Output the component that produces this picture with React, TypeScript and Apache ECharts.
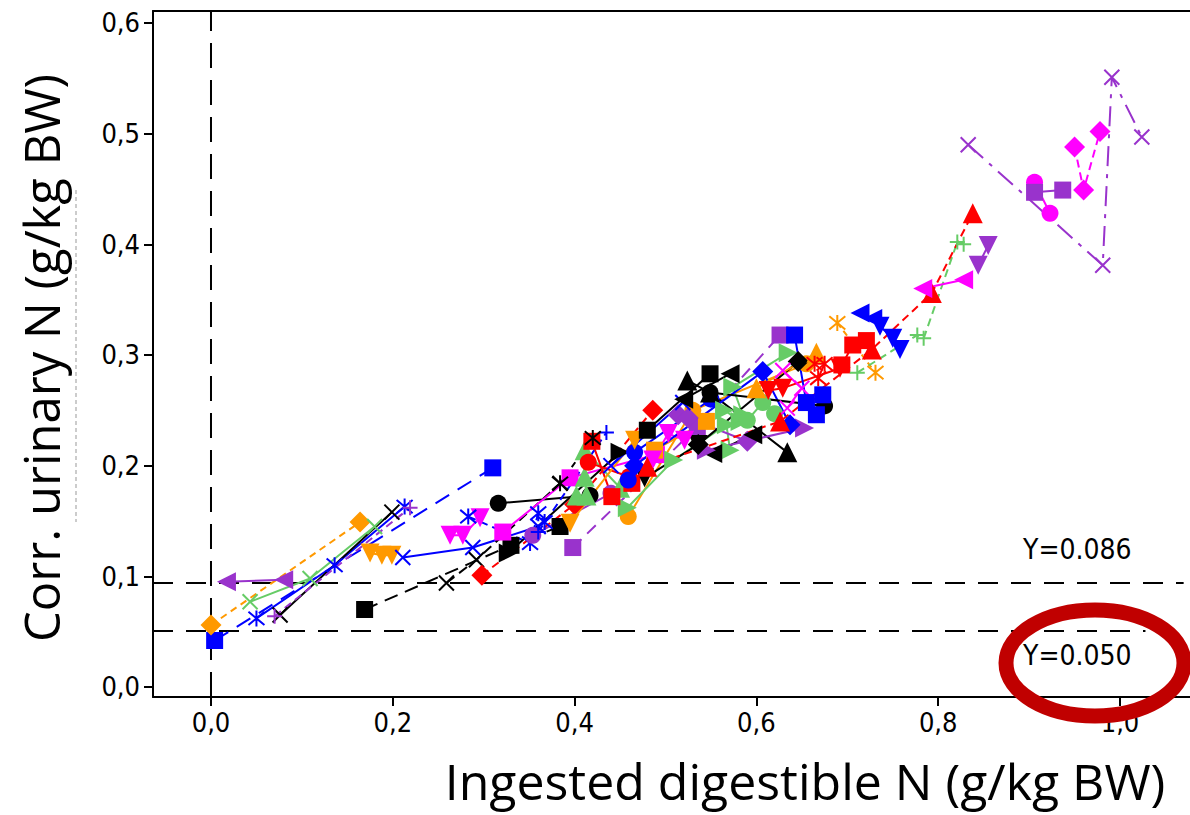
import React, { useEffect, useRef } from "react";
import * as echarts from "echarts";

// ---------- data ----------
const xTicks = [0, 0.2, 0.4, 0.6, 0.8, 1.0];
const yTicks = [0, 0.1, 0.2, 0.3, 0.4, 0.5, 0.6];
const refLineHigh = 0.094; // drawn position of the "Y=0.086" line
const refLineLow = 0.0506; // drawn position of the "Y=0.050" line
const refLabels = ["Y=0.086", "Y=0.050"];
const xTitle = "Ingested digestible N (g/kg BW)";
const yTitle = "Corr. urinary N (g/kg BW)";

// colour, symbol, dash, points
type Ser = [string, string, any, number[][]];
const groups: Ser[] = [
  ["B", "rect", [16, 10], [[0.004, 0.042], [0.31, 0.198]]],
  ["B", "ast", "solid", [[0.05, 0.062], [0.136, 0.11], [0.213, 0.163]]],
  ["O", "diamond", [7, 5], [[0.0, 0.056], [0.164, 0.149]]],
  ["P", "left", "solid", [[0.017, 0.095], [0.08, 0.097]]],
  ["G", "x", "solid", [[0.043, 0.077], [0.109, 0.098], [0.18, 0.145]]],
  ["K", "x", "solid", [[0.076, 0.065], [0.199, 0.158]]],
  ["P", "plus", [8, 5], [[0.07, 0.064], [0.219, 0.162]]],
  ["O", "down", "solid", [[0.175, 0.121], [0.188, 0.119], [0.199, 0.119]]],
  ["B", "x", "solid", [[0.211, 0.117], [0.288, 0.126], [0.36, 0.145]]],
  ["K", "rect", [14, 8], [[0.169, 0.07], [0.33, 0.128], [0.384, 0.145]]],
  ["K", "x", [10, 6], [[0.259, 0.094], [0.292, 0.115], [0.384, 0.184]]],
  ["R", "diamond", [8, 5], [[0.298, 0.101], [0.4, 0.165], [0.486, 0.25]]],
  ["M", "down", "solid", [[0.263, 0.137], [0.277, 0.137], [0.296, 0.153]]],
  ["B", "ast", [8, 5], [[0.283, 0.154], [0.351, 0.13], [0.36, 0.157], [0.367, 0.149]]],
  ["K", "circle", "solid", [[0.316, 0.166], [0.417, 0.173]]],
  ["M", "rect", "solid", [[0.321, 0.14], [0.395, 0.189], [0.49, 0.21]]],
  ["P", "rect", [12, 8], [[0.398, 0.126], [0.535, 0.235], [0.626, 0.318]]],
  ["P", "circle", "solid", [[0.354, 0.137], [0.44, 0.175]]],
  ["K", "right", "solid", [[0.327, 0.121], [0.45, 0.212]]],
  ["O", "circle", "solid", [[0.459, 0.154], [0.53, 0.25], [0.655, 0.292]]],
  ["G", "up", "solid", [[0.402, 0.173], [0.413, 0.173], [0.411, 0.19], [0.411, 0.214], [0.45, 0.18]]],
  ["G", "right", "solid", [[0.458, 0.162], [0.509, 0.205], [0.567, 0.237], [0.571, 0.214]]],
  ["R", "rect", "solid", [[0.419, 0.222], [0.441, 0.172], [0.463, 0.184]]],
  ["R", "circle", "solid", [[0.415, 0.203], [0.46, 0.19]]],
  ["B", "circle", "solid", [[0.459, 0.187], [0.466, 0.212], [0.55, 0.26]]],
  ["K", "down", "solid", [[0.477, 0.189], [0.536, 0.219]]],
  ["O", "down", "solid", [[0.395, 0.148], [0.466, 0.223]]],
  ["O", "rect", "solid", [[0.488, 0.214], [0.545, 0.24]]],
  ["K", "rect", "solid", [[0.48, 0.232], [0.549, 0.283]]],
  ["M", "down", "solid", [[0.486, 0.205], [0.503, 0.229], [0.521, 0.223]]],
  ["P", "diamond", "solid", [[0.514, 0.246], [0.525, 0.243], [0.59, 0.222]]],
  ["B", "x", "solid", [[0.44, 0.2], [0.519, 0.257]]],
  ["B", "plus", [8, 5], [[0.36, 0.14], [0.435, 0.23]]],
  ["K", "ast", [6, 4], [[0.384, 0.184], [0.42, 0.225]]],
  ["K", "left", "solid", [[0.552, 0.211], [0.596, 0.228]]],
  ["K", "up", "solid", [[0.524, 0.277], [0.549, 0.266], [0.634, 0.212]]],
  ["K", "left", "solid", [[0.571, 0.283], [0.52, 0.26]]],
  ["P", "right", "solid", [[0.545, 0.214], [0.653, 0.234]]],
  ["G", "right", "solid", [[0.565, 0.25], [0.582, 0.24], [0.585, 0.246], [0.574, 0.271], [0.635, 0.302]]],
  ["G", "circle", "solid", [[0.59, 0.241], [0.607, 0.257], [0.62, 0.247]]],
  ["B", "diamond", "solid", [[0.466, 0.2], [0.607, 0.285], [0.637, 0.237]]],
  ["K", "diamond", "solid", [[0.536, 0.219], [0.646, 0.294]]],
  ["O", "up", "solid", [[0.6, 0.27], [0.666, 0.302]]],
  ["K", "circle", "solid", [[0.549, 0.266], [0.675, 0.254]]],
  ["M", "x", "solid", [[0.629, 0.286], [0.65, 0.27], [0.634, 0.252]]],
  ["R", "down", "solid", [[0.613, 0.268], [0.629, 0.27], [0.692, 0.288]]],
  ["R", "ast", "solid", [[0.664, 0.292], [0.675, 0.292], [0.668, 0.279]]],
  ["B", "rect", "solid", [[0.642, 0.318], [0.655, 0.257], [0.673, 0.264], [0.666, 0.246]]],
  ["R", "rect", "solid", [[0.694, 0.291], [0.706, 0.309], [0.721, 0.313]]],
  ["O", "ast", [6, 4], [[0.689, 0.329], [0.731, 0.284]]],
  ["G", "plus", [8, 5], [[0.711, 0.284], [0.777, 0.318], [0.784, 0.315], [0.821, 0.402], [0.828, 0.4]]],
  ["B", "left", "solid", [[0.714, 0.338], [0.728, 0.333]]],
  ["B", "down", "solid", [[0.736, 0.326], [0.75, 0.315], [0.758, 0.305]]],
  ["R", "up", [8, 5], [[0.48, 0.199], [0.626, 0.24], [0.727, 0.305], [0.793, 0.356], [0.838, 0.428]]],
  ["M", "left", "solid", [[0.783, 0.36], [0.828, 0.368]]],
  ["P", "down", "solid", [[0.844, 0.381], [0.855, 0.399]]],
  ["P", "x", [20, 8, 4, 8], [[0.833, 0.49], [0.981, 0.381], [0.991, 0.551], [1.024, 0.497]]],
  ["M", "diamond", [8, 5], [[0.95, 0.488], [0.96, 0.449], [0.978, 0.502]]],
  ["M", "circle", "solid", [[0.906, 0.456], [0.923, 0.428]]],
  ["P", "rect", "solid", [[0.906, 0.447], [0.937, 0.449]]],
];

const COLORS: Record<string, string> = {
  B: "#0000FF",
  K: "#000000",
  R: "#FF0000",
  M: "#FF00FF",
  P: "#9933CC",
  G: "#66CC66",
  O: "#FF9900",
};

const SYMBOLS: Record<string, [string, number, boolean]> = {
  rect: ["rect", 17, false],
  circle: ["circle", 17, false],
  up: ["triangle", 20, false],
  diamond: ["diamond", 21, false],
  down: ["path://M0,0L10,0L5,9Z", 19, false],
  left: ["path://M0,5L9,0L9,10Z", 19, false],
  right: ["path://M0,0L9,5L0,10Z", 19, false],
  x: ["path://M0,0L10,10M10,0L0,10", 15, true],
  ast: ["path://M0,0L10,10M10,0L0,10M5,-1L5,11", 16, true],
  plus: ["path://M5,0L5,10M0,5L10,5", 15, true],
};

const X_MIN = -0.0638;
const X_MAX = 1.077;
const Y_MIN = -0.00904;
const Y_MAX = 0.6108;

const TICK_FONT = "'Liberation Sans Narrow', 'DejaVu Sans Condensed', sans-serif";
const TITLE_FONT = "'Open Sans', 'DejaVu Sans', sans-serif";

export default function App() {
  const ref = useRef<HTMLDivElement>(null);
  useEffect(() => {
    if (!ref.current) return;
    const chart = echarts.init(ref.current, undefined, { renderer: "svg" });

    const dataSeries = groups.map(([c, s, dash, pts], i) => {
      const color = COLORS[c];
      const [sym, size, strokeOnly] = SYMBOLS[s];
      return {
        type: "line",
        name: "s" + i,
        data: pts,
        symbol: sym,
        symbolSize: size,
        showSymbol: true,
        silent: true,
        z: 3,
        lineStyle: { color, width: 2, type: dash },
        itemStyle: strokeOnly
          ? { color: "rgba(0,0,0,0)", borderColor: color, borderWidth: 2 }
          : { color, borderWidth: 0 },
        emphasis: { disabled: true },
      };
    });

    const refStyle = { color: "#000", width: 2, type: [20, 13] };
    const refSeries = [
      {
        type: "line",
        data: [[X_MIN, refLineHigh], [1.07, refLineHigh]],
        symbol: "none",
        silent: true,
        z: 1,
        lineStyle: refStyle,
      },
      {
        type: "line",
        data: [[X_MIN, refLineLow], [1.028, refLineLow]],
        symbol: "none",
        silent: true,
        z: 1,
        lineStyle: refStyle,
      },
      {
        type: "line",
        data: [[0, Y_MIN], [0, Y_MAX]],
        symbol: "none",
        silent: true,
        z: 1,
        lineStyle: { color: "#000", width: 2, type: [25, 12] },
      },
    ];

    const fmt = (v: number) => v.toFixed(1).replace(".", ",");

    chart.setOption({
      animation: false,
      backgroundColor: "#fff",
      grid: { left: 153, top: 11, right: 0, bottom: 118 },
      xAxis: [
        {
          type: "value",
          min: X_MIN,
          max: X_MAX,
          position: "bottom",
          axisLine: { show: true, onZero: false, lineStyle: { color: "#000", width: 2 } },
          axisTick: { show: true, length: 9, customValues: xTicks, lineStyle: { color: "#000", width: 2 } },
          axisLabel: {
            customValues: xTicks,
            formatter: fmt,
            fontSize: 27,
            fontFamily: TICK_FONT,
            color: "#000",
            margin: 12,
          },
          splitLine: { show: false },
        },
        {
          type: "value",
          min: X_MIN,
          max: X_MAX,
          position: "top",
          axisLine: { show: true, onZero: false, lineStyle: { color: "#000", width: 2 } },
          axisTick: { show: false },
          axisLabel: { show: false },
          splitLine: { show: false },
        },
      ],
      yAxis: {
        type: "value",
        min: Y_MIN,
        max: Y_MAX,
        axisLine: { show: true, onZero: false, lineStyle: { color: "#000", width: 2 } },
        axisTick: { show: true, length: 9, customValues: yTicks, lineStyle: { color: "#000", width: 2 } },
        axisLabel: {
          customValues: yTicks,
          formatter: fmt,
          fontSize: 27,
          fontFamily: TICK_FONT,
          color: "#000",
          margin: 13,
        },
        splitLine: { show: false },
      },
      series: [...refSeries, ...dataSeries],
      graphic: [
        {
          type: "text",
          x: 1023,
          y: 549,
          style: {
            text: refLabels[0],
            font: "28px " + TICK_FONT,
            fill: "#000",
            verticalAlign: "middle",
          },
        },
        {
          type: "text",
          x: 1023,
          y: 655,
          style: {
            text: refLabels[1],
            font: "28px " + TICK_FONT,
            fill: "#000",
            verticalAlign: "middle",
          },
        },
        {
          type: "ellipse",
          shape: { cx: 1095, cy: 663, rx: 89, ry: 53 },
          style: { fill: "none", stroke: "#C00000", lineWidth: 15 },
          z: 100,
        },
        {
          type: "text",
          x: 805,
          y: 781,
          style: {
            text: xTitle,
            font: "50px " + TITLE_FONT,
            fill: "#000",
            align: "center",
            verticalAlign: "middle",
          },
        },
        {
          type: "text",
          x: 41,
          y: 358,
          rotation: Math.PI / 2,
          style: {
            text: yTitle,
            font: "49px " + TITLE_FONT,
            fill: "#000",
            align: "center",
            verticalAlign: "middle",
          },
        },
        {
          type: "line",
          shape: { x1: 76, y1: 190, x2: 76, y2: 522 },
          style: { stroke: "#999", lineWidth: 1, lineDash: [4, 3] },
        },
      ],
    });
    return () => chart.dispose();
  }, []);
  return (
    <div
      ref={ref}
      style={{ position: "absolute", left: 0, top: 0, width: 1190, height: 815 }}
    />
  );
}
